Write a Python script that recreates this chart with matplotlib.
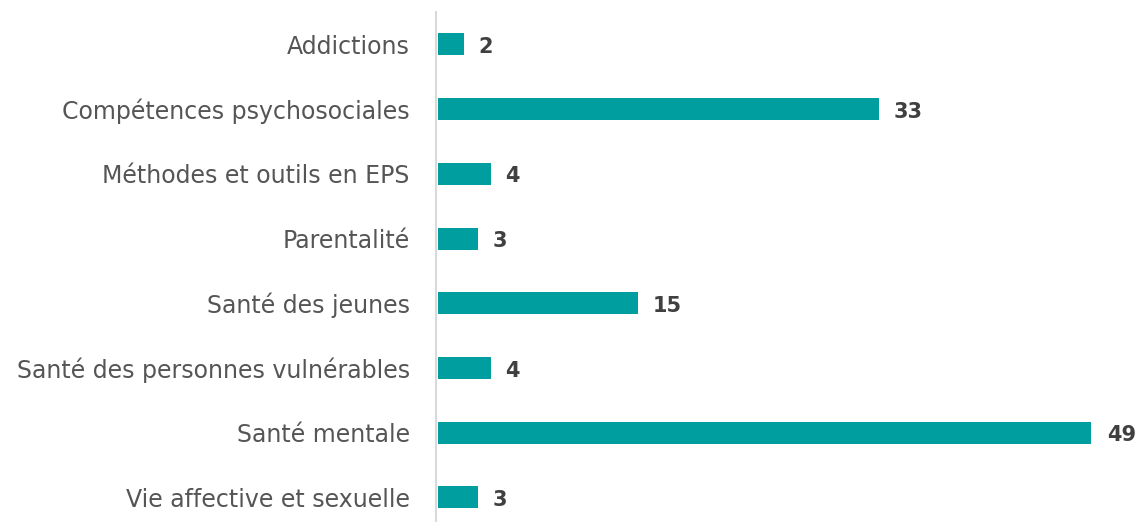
import matplotlib.pyplot as plt

categories = ['Addictions', 'Compétences psychosociales', 'Méthodes et outils en EPS',
              'Parentalité', 'Santé des jeunes', 'Santé des personnes vulnérables',
              'Santé mentale', 'Vie affective et sexuelle']
values = [2, 33, 4, 3, 15, 4, 49, 3]

plt.rcParams['font.family'] = ['DejaVu Sans']

fig = plt.figure(figsize=(11.4, 5.22), dpi=100)
ax = fig.add_axes([0.3825, 0.0, 0.957 - 0.3825, 1 - 12 / 522])

y = range(len(categories))
ax.barh(y, values, height=0.34, color='#009E9E', left=0.12)
for i, v in enumerate(values):
    ax.text(v + 1.2, i + 0.04, str(v), va='center', ha='left', fontsize=15,
            fontweight='bold', color='#404040')

ax.set_yticks(list(y))
ax.set_yticklabels(categories, fontsize=17, color='#555555')
ax.tick_params(axis='y', length=0, pad=19)
ax.set_xticks([])
ax.set_xlim(0, 49)
ax.set_ylim(7.38, -0.5)
for s in ['top', 'right', 'bottom']:
    ax.spines[s].set_visible(False)
ax.spines['left'].set_color('#d9d9d9')
ax.spines['left'].set_linewidth(1.5)

fig.savefig('out.png', dpi=100)
